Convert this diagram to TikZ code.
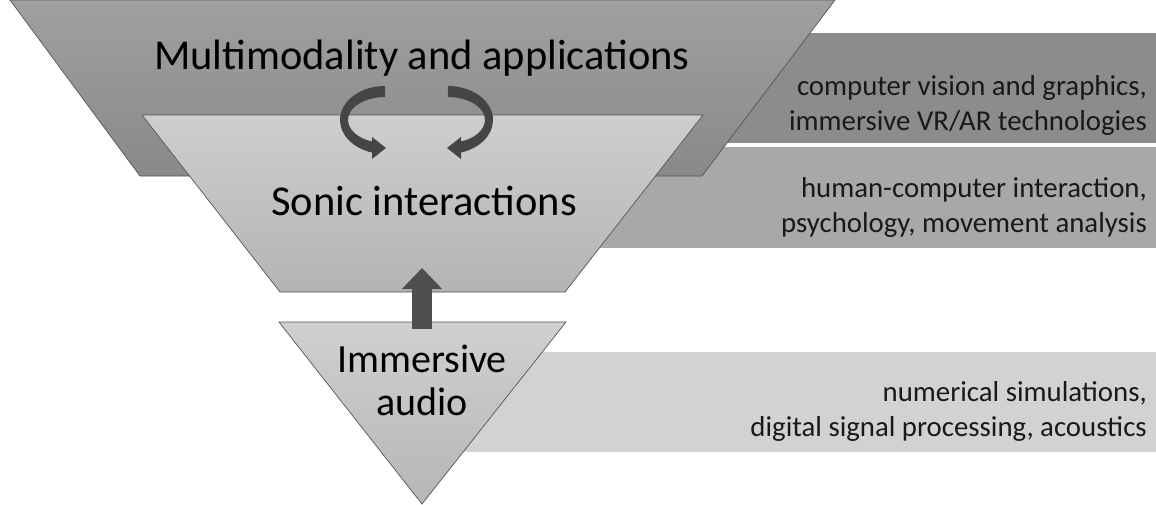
\documentclass[tikz,border=0pt]{standalone}
\usepackage{fontspec}
\setmainfont{Carlito}
\usetikzlibrary{arrows.meta}
\definecolor{capaalta}{HTML}{A0A0A0}
\definecolor{capaaltab}{HTML}{898989}
\definecolor{capamedia}{HTML}{CECECE}
\definecolor{capamediab}{HTML}{B4B4B4}
\definecolor{capabaja}{HTML}{D0D0D0}
\definecolor{capabajab}{HTML}{B6B6B6}
\definecolor{franja1}{HTML}{8C8C8C}
\definecolor{franja2}{HTML}{A8A8A8}
\definecolor{franja3}{HTML}{D2D2D2}
\definecolor{borde}{HTML}{555555}
\definecolor{flecha}{HTML}{454545}
\tikzset{
  capa/.style={draw=borde, line width=0.7pt},
  titulo/.style={font=\fontsize{42.5}{44}\selectfont, inner sep=0pt, align=center},
  campo/.style={font=\fontsize{28.8}{35}\selectfont, inner sep=0pt, align=right, text=black!90}
}

\begin{document}
\begin{tikzpicture}[x=1pt, y=-1pt]
        \useasboundingbox (0,0) rectangle (1156,504);
        % franjas de disciplinas
        \fill[franja1] (700,33) rectangle (1156,143);
        \fill[franja2] (590,147) rectangle (1156,248);
        \fill[franja3] (460,352) rectangle (1156,452);
        % capas de la piramide
        \draw[capa, top color=capaalta, bottom color=capaaltab] (10,0) -- (835,0) -- (702,176) -- (140,176) -- cycle;
        \draw[capa, top color=capamedia, bottom color=capamediab] (142,115) -- (703,115) -- (565,292) -- (280,292) -- cycle;
        \draw[capa, top color=capabaja, bottom color=capabajab] (279,322) -- (566,322) -- (422,504) -- cycle;
        % flechas de ida y vuelta
        \fill[flecha] (385,86) arc[start angle=90, end angle=253.2, x radius=45pt, y radius=34pt]
          -- (372,159) -- (386,148) -- (372,137) -- (372,141.5)
          arc[start angle=249.4, end angle=90, x radius=37pt, y radius=23pt] -- cycle;
        \fill[flecha] (448,86) arc[start angle=90, end angle=-73.2, x radius=45pt, y radius=34pt]
          -- (461,159) -- (447,148) -- (461,137) -- (461,141.5)
          arc[start angle=-69.4, end angle=90, x radius=37pt, y radius=23pt] -- cycle;
        \coordinate (audiotop) at (422,329);
        \coordinate (sonicbot) at (422,268);
        \draw[flecha!95, line width=20pt, -{Triangle[length=21pt, width=39pt]}] (audiotop) -- (sonicbot);
        % textos
        \node[titulo, anchor=base] (multi) at (422,69) {Multimodality and applications};
        \node[titulo, anchor=base] (sonic) at (424,215) {Sonic interactions};
        \node[titulo, font=\fontsize{40}{43}\selectfont, anchor=base] (audio) at (422,415) {Immersive\\audio};
        \node[campo, anchor=base east] (vision) at (1147,130) {computer vision and graphics,\\immersive VR/AR technologies};
        \node[campo, anchor=base east] (hci) at (1147,232) {human-computer interaction,\\psychology, movement analysis};
        \node[campo, anchor=base east] (dsp) at (1147,436) {numerical simulations,\\digital signal processing, acoustics};
      \end{tikzpicture}
\end{document}
